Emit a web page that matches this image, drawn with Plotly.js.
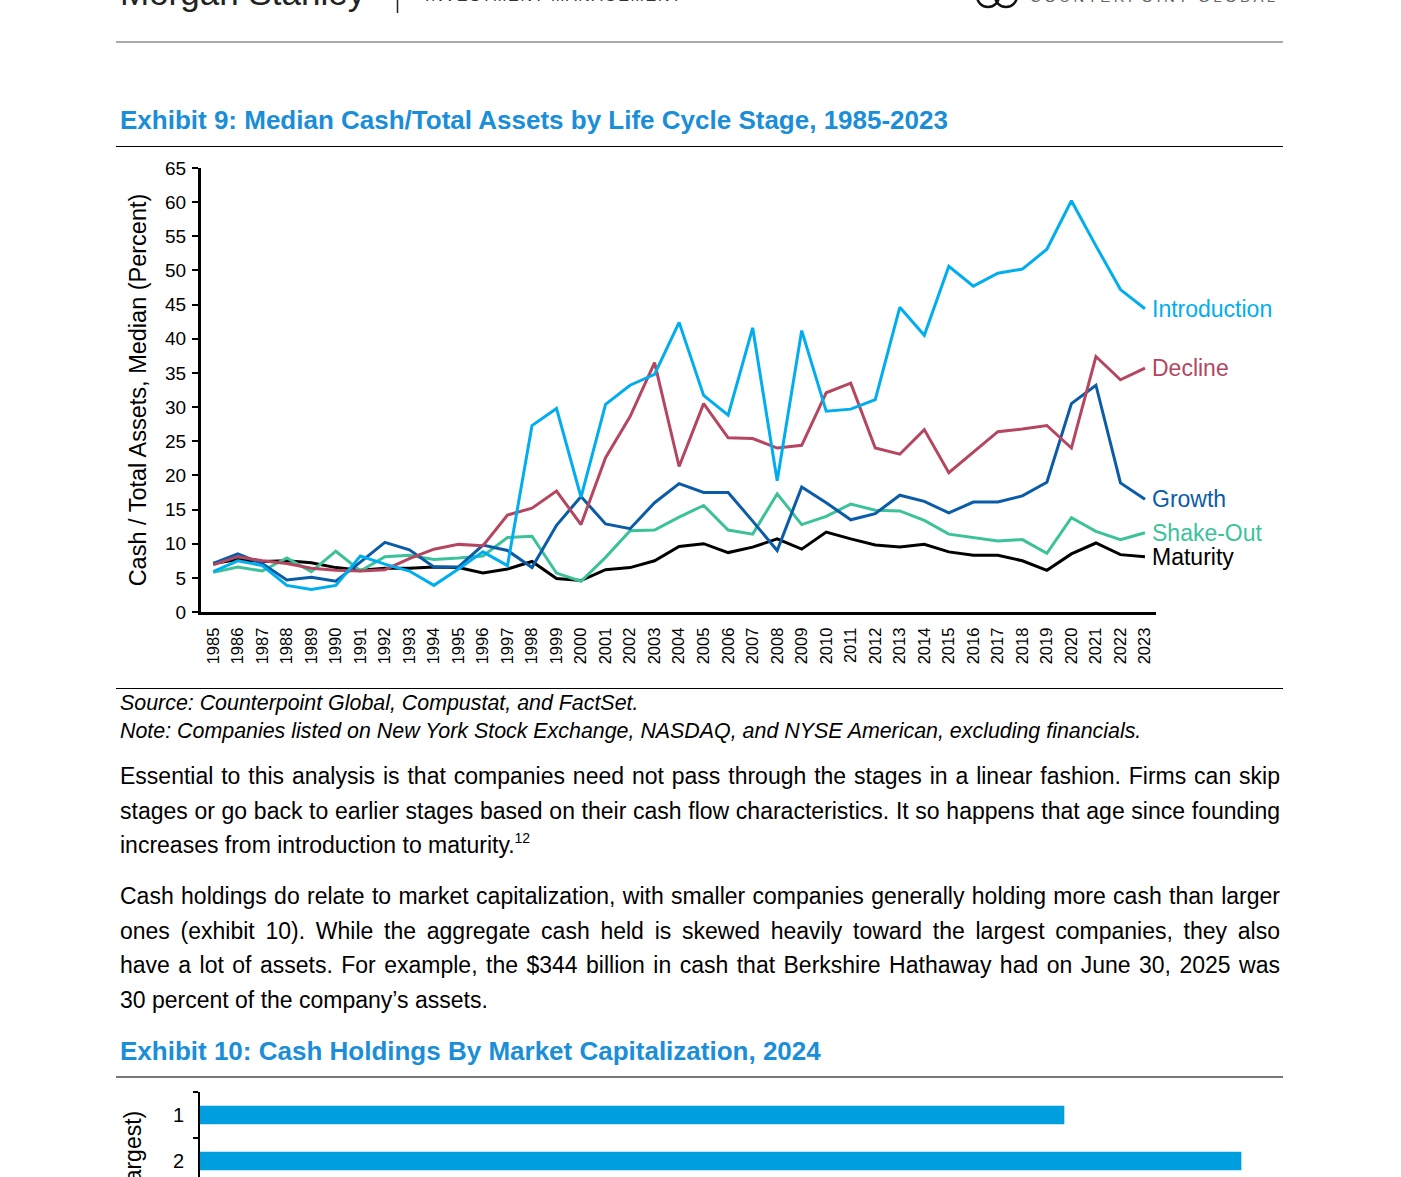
<!DOCTYPE html>
<html>
<head>
<meta charset="utf-8">
<script src="https://cdn.plot.ly/plotly-3.0.1.min.js"></script>
<style>
  html, body { margin: 0; padding: 0; background: #fff; }
  body { width: 1401px; height: 1177px; overflow: hidden; position: relative;
         font-family: "Liberation Sans", Arial, Helvetica, sans-serif; color: #000; }
  .abs { position: absolute; }
  .title { left: 120px; font-weight: bold; color: #1a8ed8; font-size: 26px; line-height: 30px; white-space: nowrap; }
  .note { left: 120px; font-style: italic; font-size: 21.4px; line-height: 28px; white-space: nowrap; }
  .para { left: 120px; width: 1160px; font-size: 23px; line-height: 34.5px; }
  .para div { text-align: justify; text-align-last: justify; white-space: nowrap; }
  .para div.last { text-align-last: left; }
  .para sup { font-size: 14px; line-height: 0; vertical-align: 10px; }
</style>
</head>
<body>

<svg class="abs" style="left:0;top:0" width="1401" height="1177">
  <text x="120" y="5" font-size="35" fill="#222">Morgan Stanley</text>
  <line x1="397.5" y1="0" x2="397.5" y2="13" stroke="#222" stroke-width="1.5"/>
  <text x="425" y="1" font-size="16" letter-spacing="1.7" fill="#333">INVESTMENT MANAGEMENT</text>
  <ellipse cx="988" cy="-4" rx="11" ry="11" fill="none" stroke="#111" stroke-width="2.5"/>
  <ellipse cx="1006" cy="-4" rx="11" ry="11" fill="none" stroke="#111" stroke-width="2.5"/>
  <text x="1030" y="2" font-size="15" letter-spacing="3.4" fill="#666">COUNTERPOINT GLOBAL</text>
  <line x1="116" y1="42" x2="1283" y2="42" stroke="#aaa" stroke-width="2"/>
  <line x1="116" y1="146.5" x2="1283" y2="146.5" stroke="#000" stroke-width="1.2"/>
  <line x1="116" y1="688.5" x2="1283" y2="688.5" stroke="#000" stroke-width="1.2"/>
  <line x1="116" y1="1077" x2="1283" y2="1077" stroke="#777" stroke-width="2"/>
</svg>

<div class="abs title" style="top:105px">Exhibit 9: Median Cash/Total Assets by Life Cycle Stage, 1985-2023</div>
<div id="chart9" class="abs" style="left:100px;top:150px;width:1200px;height:540px"></div>

<div class="abs note" style="top:689px">Source: Counterpoint Global, Compustat, and FactSet.<br>Note: Companies listed on New York Stock Exchange, NASDAQ, and NYSE American, excluding financials.</div>

<div class="abs para" style="top:759px">
  <div>Essential to this analysis is that companies need not pass through the stages in a linear fashion. Firms can skip</div>
  <div>stages or go back to earlier stages based on their cash flow characteristics. It so happens that age since founding</div>
  <div class="last">increases from introduction to maturity.<sup>12</sup></div>
</div>
<div class="abs para" style="top:879px">
  <div>Cash holdings do relate to market capitalization, with smaller companies generally holding more cash than larger</div>
  <div>ones (exhibit 10). While the aggregate cash held is skewed heavily toward the largest companies, they also</div>
  <div>have a lot of assets. For example, the $344 billion in cash that Berkshire Hathaway had on June 30, 2025 was</div>
  <div class="last">30 percent of the company’s assets.</div>
</div>

<div class="abs title" style="top:1036px">Exhibit 10: Cash Holdings By Market Capitalization, 2024</div>
<div id="chart10" class="abs" style="left:100px;top:1085px;width:1200px;height:620px"></div>

<script>
const years = [1985, 1986, 1987, 1988, 1989, 1990, 1991, 1992, 1993, 1994,
  1995, 1996, 1997, 1998, 1999, 2000, 2001, 2002, 2003, 2004,
  2005, 2006, 2007, 2008, 2009, 2010, 2011, 2012, 2013, 2014,
  2015, 2016, 2017, 2018, 2019, 2020, 2021, 2022, 2023];

const introduction = [5.9, 7.5, 6.8, 3.9, 3.3, 3.9, 8.2, 7.0, 6.0, 3.9,
  6.3, 8.8, 6.8, 27.3, 29.8, 16.8, 30.4, 33.2, 34.8, 42.4,
  31.7, 28.8, 41.6, 19.2, 41.2, 29.4, 29.7, 31.1, 44.6, 40.5,
  50.6, 47.7, 49.6, 50.2, 53.1, 60.2, 53.6, 47.2, 44.4];
const growth = [7.1, 8.5, 7.1, 4.7, 5.1, 4.5, 7.3, 10.2, 9.1, 6.6,
  6.6, 9.8, 9.0, 6.5, 12.7, 16.9, 12.9, 12.2, 16.0, 18.8,
  17.5, 17.5, 13.3, 9.0, 18.3, 16.0, 13.5, 14.4, 17.1, 16.2,
  14.5, 16.1, 16.1, 17.0, 19.0, 30.5, 33.2, 18.9, 16.5];
const shakeOut = [5.8, 6.6, 6.0, 7.9, 5.9, 8.9, 6.0, 8.1, 8.3, 7.7,
  7.9, 8.2, 10.9, 11.1, 5.7, 4.5, 8.0, 11.9, 12.0, 13.9,
  15.6, 12.0, 11.4, 17.3, 12.8, 14.0, 15.8, 14.9, 14.8, 13.4,
  11.4, 10.9, 10.4, 10.6, 8.6, 13.8, 11.8, 10.6, 11.6];
const maturity = [7.1, 7.7, 7.4, 7.5, 7.2, 6.5, 6.1, 6.4, 6.4, 6.6,
  6.5, 5.7, 6.3, 7.4, 4.9, 4.6, 6.2, 6.5, 7.5, 9.6,
  10.0, 8.7, 9.5, 10.7, 9.2, 11.7, 10.7, 9.8, 9.5, 9.9,
  8.8, 8.3, 8.3, 7.5, 6.1, 8.5, 10.1, 8.4, 8.1];
const decline = [6.9, 8.1, 7.5, 7.1, 6.4, 6.1, 6.0, 6.2, 7.8, 9.2,
  9.9, 9.7, 14.2, 15.2, 17.7, 12.8, 22.6, 28.6, 36.5, 21.3,
  30.5, 25.5, 25.4, 24.0, 24.4, 32.1, 33.5, 24.0, 23.1, 26.7,
  20.4, 23.4, 26.4, 26.8, 27.3, 24.0, 37.4, 34.0, 35.7];

const yTicks = [0, 5, 10, 15, 20, 25, 30, 35, 40, 45, 50, 55, 60, 65];

// drawing order: last one ends up on top
const stages = [
  { name: 'Maturity', values: maturity, color: '#000000' },
  { name: 'Shake-Out', values: shakeOut, color: '#3cc29b' },
  { name: 'Growth', values: growth, color: '#0b5ca8' },
  { name: 'Decline', values: decline, color: '#b5465f' },
  { name: 'Introduction', values: introduction, color: '#00aeef' }
];

const font = '"Liberation Sans", Arial, Helvetica, sans-serif';

const traces9 = stages.map(s => ({
  x: years,
  y: s.values,
  type: 'scatter',
  mode: 'lines',
  name: s.name,
  line: { color: s.color, width: 3 }
}));

const endLabels = stages.map(s => ({
  x: years[years.length - 1],
  y: s.values[s.values.length - 1],
  text: s.name,
  showarrow: false,
  xanchor: 'left',
  yanchor: 'middle',
  xshift: 5,
  font: { family: font, size: 23, color: s.color }
}));

Plotly.newPlot('chart9', traces9, {
  width: 1200,
  height: 540,
  margin: { l: 101, r: 144, t: 18, b: 78 },
  paper_bgcolor: 'rgba(0,0,0,0)',
  plot_bgcolor: 'rgba(0,0,0,0)',
  font: { family: font, size: 19, color: '#000' },
  showlegend: false,
  xaxis: {
    range: [1984.5, 2023.45],
    tickvals: years,
    ticktext: years.map(String),
    tickangle: -90,
    ticks: '',
    ticklabelstandoff: 6,
    showgrid: false,
    zeroline: false,
    showline: true,
    linecolor: '#000',
    linewidth: 3,
    tickfont: { size: 16.5 }
  },
  yaxis: {
    range: [0, 65],
    tickvals: yTicks,
    ticks: 'outside',
    ticklen: 6,
    tickwidth: 2,
    tickcolor: '#000',
    ticklabelstandoff: 2,
    showgrid: false,
    zeroline: false,
    showline: true,
    linecolor: '#000',
    linewidth: 3,
    tickfont: { size: 19 },
    title: { text: 'Cash / Total Assets, Median (Percent)', font: { size: 23.5 }, standoff: 12 }
  },
  annotations: endLabels
}, { staticPlot: true });

// Exhibit 10 (only the top of the chart is on the page)
const deciles = ['1', '2', '3', '4', '5', '6', '7', '8', '9', '10'];
const cashByDecile = [8.3, 10.0];

Plotly.newPlot('chart10', [{
  type: 'bar',
  orientation: 'h',
  y: deciles.slice(0, cashByDecile.length),
  x: cashByDecile,
  marker: { color: '#009fe0' }
}], {
  width: 1200,
  height: 620,
  margin: { l: 100, r: 17, t: 7, b: 153 },
  paper_bgcolor: 'rgba(0,0,0,0)',
  plot_bgcolor: 'rgba(0,0,0,0)',
  font: { family: font, size: 20, color: '#000' },
  bargap: 0.6,
  showlegend: false,
  xaxis: { range: [0, 10.4], visible: false },
  yaxis: {
    type: 'category',
    categoryorder: 'array',
    categoryarray: deciles,
    range: [deciles.length - 0.5, -0.5],
    autorange: false,
    tickson: 'boundaries',
    ticks: 'outside',
    ticklen: 5,
    tickwidth: 2,
    tickcolor: '#000',
    ticklabelstandoff: 10,
    showline: true,
    linecolor: '#000',
    linewidth: 2,
    showgrid: false,
    zeroline: false,
    tickfont: { size: 20 },
    title: { text: 'Market Capitalization Decile (1 = Largest)', font: { size: 23 }, standoff: 14 }
  }
}, { staticPlot: true });
</script>
</body>
</html>
